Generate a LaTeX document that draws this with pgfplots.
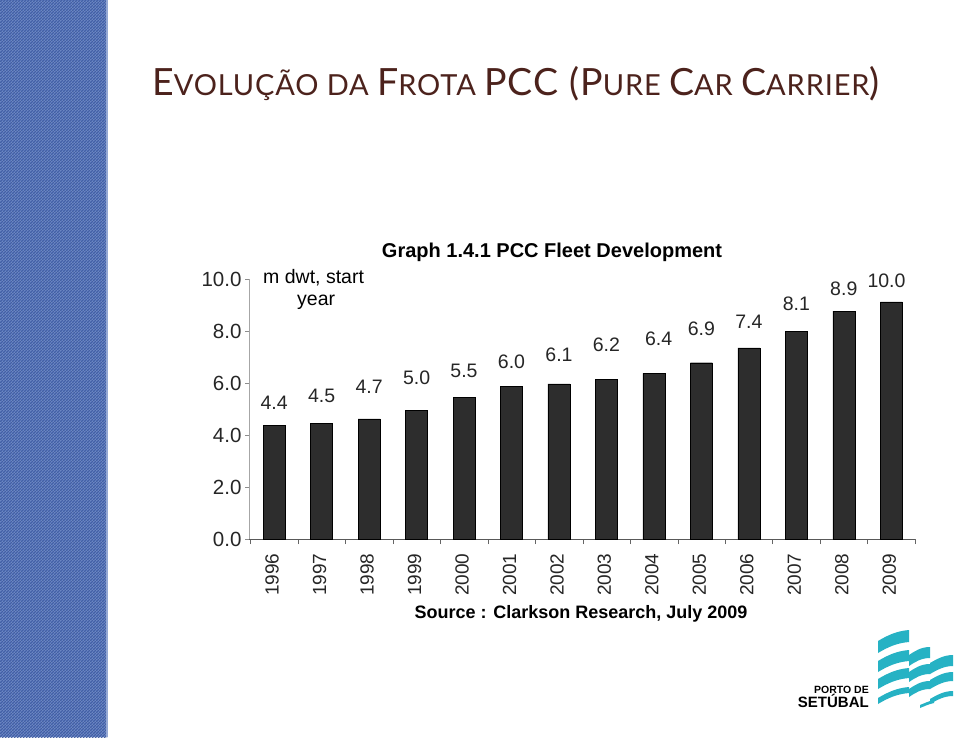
\documentclass[border=0pt]{standalone}
\usepackage{pgfplots}
\pgfplotsset{compat=1.18}
\usepackage{fontspec}
\setmainfont{Liberation Sans}
\newfontfamily\titlefont[LetterSpace=3]{Lato}
\usetikzlibrary{patterns}
\definecolor{titlebrown}{RGB}{76,34,28}
\definecolor{stripblue}{RGB}{80,112,184}
\definecolor{stripdark}{RGB}{56,84,154}
\definecolor{logoteal}{RGB}{38,178,196}
\definecolor{barfill}{RGB}{45,45,45}
\newcommand\bigc[1]{{\fontsize{37.5}{37.5}\selectfont #1}}
\newcommand\smc[1]{{\fontsize{29}{29}\selectfont #1}}
\begin{document}
\begin{tikzpicture}[x=1pt,y=1pt]
\useasboundingbox (0,0) rectangle (959,737);
\fill[white] (0,0) rectangle (959,737);
% textured strip
\fill[stripblue] (0,0) rectangle (107,737);
\fill[pattern=crosshatch, pattern color=stripblue!70!white] (0,0) rectangle (107,737);
\fill[pattern=north east lines, pattern color=stripdark] (0,0) rectangle (107,737);
\fill[stripblue!60!white] (106,0) rectangle (108,737);
% title
\node[anchor=base west, inner sep=0, text=titlebrown] at (152,641)
 {\titlefont\bigc{E}\smc{VOLUÇÃO DA }\bigc{F}\smc{ROTA }\bigc{PCC (P}\smc{URE }\bigc{C}\smc{AR }\bigc{C}\smc{ARRIER}\bigc{)}};
% chart texts
\node[anchor=base, inner sep=0] at (552,479) {\fontsize{20}{20}\selectfont\bfseries Graph 1.4.1 PCC Fleet Development};
\node[anchor=base west, inner sep=0] at (263,453) {\fontsize{19.5}{20}\selectfont m dwt, start};
\node[anchor=base west, inner sep=0] at (297,431) {\fontsize{19.5}{20}\selectfont year};
\node[anchor=base, inner sep=0] at (581,119) {\fontsize{18}{18}\selectfont\bfseries Source : Clarkson Research, July 2009};
\begin{axis}[
  at={(249pt,198pt)}, anchor=south west,
  scale only axis, width=666pt, height=260pt,
  xmin=-0.53, xmax=13.5, ymin=0, ymax=10,
  clip=false,
  axis x line=bottom, axis y line=left,
  x axis line style={-, black!65},
  y axis line style={-, black!35},
  tick align=outside,
  ytick={0,2,4,6,8,10},
  yticklabels={0.0,2.0,4.0,6.0,8.0,10.0},
  major y tick style={black!45},
  major tick length=4pt,
  xtick={0,...,13},
  xticklabels={1996,1997,1998,1999,2000,2001,2002,2003,2004,2005,2006,2007,2008,2009},
  major x tick style={draw=none},
  minor xtick={-0.5,0.5,...,13.5},
  minor tick length=5pt,
  minor x tick style={black!60},
  ticklabel style={font=\fontsize{19}{19}\selectfont, text=black!85},
  yticklabel style={font=\fontsize{20.5}{20.5}\selectfont},
  xticklabel style={rotate=90, anchor=east, yshift=2pt, xshift=-7pt},
]
\addplot[ybar, bar width=22pt, fill=barfill, draw=black]
 coordinates {(0,4.38) (1,4.46) (2,4.62) (3,4.96) (4,5.46) (5,5.87) (6,5.97)
              (7,6.13) (8,6.37) (9,6.78) (10,7.35) (11,7.98) (12,8.76) (13,9.12)};
\addplot[only marks, mark=*, mark size=0pt, mark options={draw=none, fill=none},
  nodes near coords, point meta=explicit symbolic,
  nodes near coords style={anchor=center, inner sep=0, font=\fontsize{19.5}{19.5}\selectfont, text=black!85}]
 coordinates {(0,5.23)[4.4] (1,5.50)[4.5] (2,5.85)[4.7] (3,6.19)[5.0] (4,6.46)[5.5]
              (5,6.81)[6.0] (6,7.08)[6.1] (7,7.46)[6.2] (8.1,7.69)[6.4] (9,8.08)[6.9]
              (10,8.35)[7.4] (11,9.04)[8.1] (12,9.62)[8.9] (12.9,9.92)[10.0]};
\end{axis}
% logo text
\node[anchor=base east, inner sep=0] at (869,44) {\fontsize{10.5}{10.5}\selectfont\bfseries PORTO DE};
\node[anchor=base east, inner sep=0] at (869,30) {\fontsize{15}{15}\selectfont\bfseries SETÚBAL};
% logo waves (filled flag bands)
\begin{scope}[logoteal]
 \foreach \y/\t in {84/12, 65/11, 48/10, 33/6}{
   \fill (878,\y) .. controls (888,\y+6) and (897,\y+10) .. (909,\y+11)
      -- (909,\y+11+\t) .. controls (897,\y+\t+10) and (888,\y+\t+6) .. (878,\y+\t) -- cycle;}
 \foreach \y/\t in {71/11, 55/10, 40/8}{
   \fill (909,\y) .. controls (915,\y+4) and (921,\y+8) .. (930,\y+8)
      -- (930,\y+8+\t) .. controls (921,\y+\t+8) and (915,\y+\t+4) .. (909,\y+\t) -- cycle;}
 \foreach \y/\t in {63/11, 48/9, 33/5}{
   \fill (930,\y) .. controls (937,\y+4) and (944,\y+8) .. (953,\y+8)
      -- (953,\y+8+\t) .. controls (944,\y+\t+8) and (937,\y+\t+4) .. (930,\y+\t) -- cycle;}
 \fill (920,29) .. controls (925,31) and (929,33) .. (934,34) -- (934,37) .. controls (929,36) and (925,34) .. (920,32) -- cycle;
\end{scope}
\end{tikzpicture}
\end{document}
